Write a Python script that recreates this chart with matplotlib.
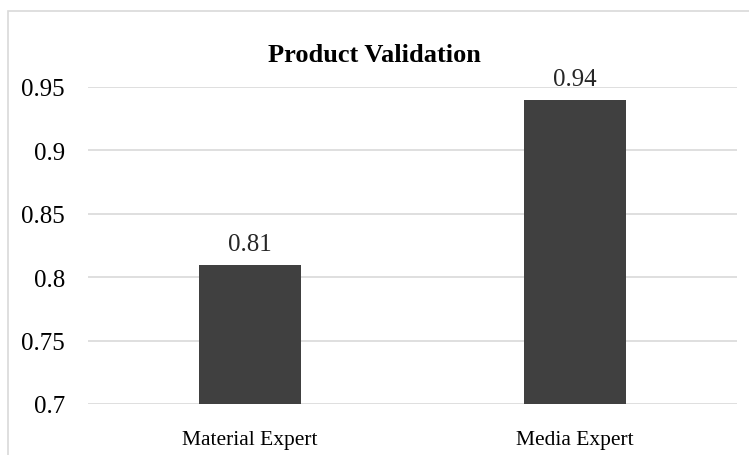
import matplotlib
matplotlib.use("Agg")
import matplotlib.pyplot as plt
from matplotlib.patches import Rectangle

# Datos
categorias = ["Material Expert", "Media Expert"]
valores = [0.81, 0.94]
ticks_y = [0.7, 0.75, 0.8, 0.85, 0.9, 0.95]
etiquetas_y = ["0.7", "0.75", "0.8", "0.85", "0.9", "0.95"]

plt.rcParams["font.family"] = ["Liberation Serif", "DejaVu Serif"]

fig = plt.figure(figsize=(7.49, 4.56), dpi=100)
ax = fig.add_axes([88/749, 1 - 405/456, (737 - 88)/749, (405 - 88)/456])

# Marco gris del área del gráfico (se sale por la derecha y por abajo)
fig.patches.append(Rectangle((8/749, -0.2), 1.2, 0.2 + 1 - 12/456,
                             transform=fig.transFigure, fill=False,
                             edgecolor="#d9d9d9", linewidth=1.2, zorder=0))

x = range(len(categorias))
barras = ax.bar(x, valores, width=0.315, color="#404040", zorder=3)

# Etiquetas de valor encima de cada barra
for b, v in zip(barras, valores):
    ax.annotate(f"{v:.2f}", (b.get_x() + b.get_width()/2, v),
                xytext=(0, 7), textcoords="offset points",
                ha="center", va="bottom", fontsize=18, color="#262626")

ax.set_xlim(-0.5, 1.5)
ax.set_ylim(0.7, 0.95)
ax.set_yticks(ticks_y)
ax.set_yticklabels(etiquetas_y)
ax.set_xticks(list(x))
ax.set_xticklabels(categorias)
ax.tick_params(axis="y", length=0, pad=16.5, labelsize=18, colors="#000000")
ax.tick_params(axis="x", length=0, pad=18.5, labelsize=15.5, colors="#000000")

ax.grid(axis="y", color="#d9d9d9", linewidth=1.2, zorder=0)
for s in ax.spines.values():
    s.set_visible(False)

fig.text(0.5, 1 - 55/456, "Product Validation", ha="center", va="center",
         fontsize=19, fontweight="bold")

fig.savefig("out.png", dpi=100)
